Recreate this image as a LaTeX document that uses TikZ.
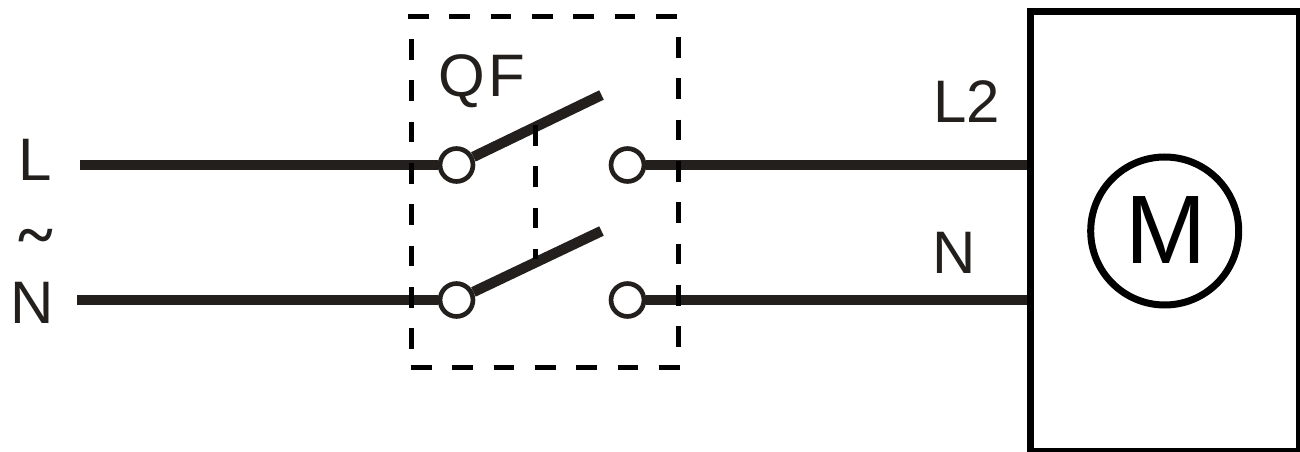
\documentclass[tikz,border=0pt]{standalone}
\usepackage{fontspec}
\setmainfont{Liberation Sans}
\newfontfamily\tildefont{Liberation Serif}
\definecolor{wirec}{HTML}{231F1C}
\begin{document}
\begin{tikzpicture}[x=0.75pt,y=-0.75pt,
  wire/.style={line width=7.8pt,draw=wirec},
  dbox/.style={line width=3.75pt,draw=black,dash pattern=on 15.5pt off 15.5pt},
  term/.style={circle,draw=wirec,fill=white,line width=3.5pt,minimum size=24.7pt,inner sep=0pt},
  lab/.style={text=wirec,font=\fontsize{45pt}{45pt}\selectfont,inner sep=0pt,anchor=base}]
\path[use as bounding box] (0,0) rectangle (1300,452);
\coordinate (lstart) at (80,165);
\coordinate (nstart) at (77,300);
\coordinate (b1) at (601.5,95);
\coordinate (b2) at (601.5,231);
\coordinate (tl) at (408,17);
\coordinate (tr) at (678,17);
\coordinate (ltop) at (411,39);
\coordinate (lbot) at (411,349);
\coordinate (rtop) at (678,37);
\coordinate (rbot) at (678,347);
\coordinate (bl) at (411,367.5);
\coordinate (br) at (680,367.5);
\coordinate (m1) at (535,125);
\coordinate (m2) at (535,259);
\node[term] (t1) at (456.5,165) {};
\node[term] (t2) at (627.5,165) {};
\node[term] (t3) at (456.5,300) {};
\node[term] (t4) at (627.5,300) {};
\node[draw=black,line width=5.25pt,minimum width=201.75pt,minimum height=329.8pt,inner sep=0pt] (load) at (1165,231.85) {};
\node[circle,draw=black,line width=5.25pt,minimum size=111pt,inner sep=0pt] (motor) at (1164.7,231) {};
\draw[wire] (lstart) -- (t1);
\draw[wire] (nstart) -- (t3);
\draw[wire] (t2) -- (t2 -| load.west);
\draw[wire] (t4) -- (t4 -| load.west);
\draw[wire] (t1) -- (b1);
\draw[wire] (t3) -- (b2);
\draw[dbox] (tl) -- (tr);
\draw[dbox] (rtop) -- (rbot);
\draw[dbox] (ltop) -- (lbot);
\draw[dbox] (bl) -- (br);
\draw[dbox] (m1) -- (m2);
\node[lab] (L) at (35.5,181) {L};
\node[lab,font=\fontsize{50pt}{50pt}\selectfont\tildefont\bfseries] (tilde) at (36,258) {\char`\~};
\node[lab] (Nl) at (32,323.3) {N};
\node[lab] (QF) at (481.5,96.7) {Q\hspace{2.25pt}F};
\node[lab] (L2) at (966.5,122.3) {L2};
\node[lab] (Nr) at (954,273.3) {N};
\node[lab,text=black,font=\fontsize{73pt}{73pt}\selectfont] (M) at (1166.5,264) {M};
\end{tikzpicture}
\end{document}
